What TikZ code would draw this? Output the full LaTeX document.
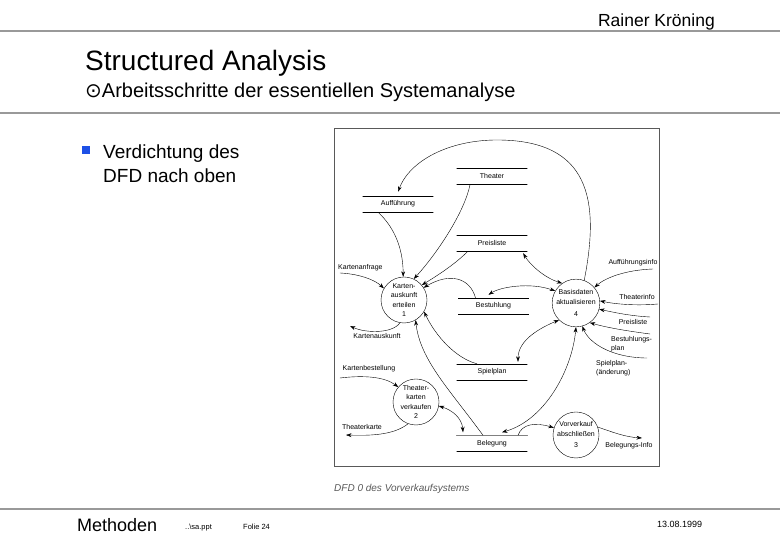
\documentclass[tikz,border=0pt]{standalone}
\usepackage{fontspec}
\setmainfont{Liberation Sans}
\newfontfamily\symfont{DejaVu Sans}
\usetikzlibrary{arrows.meta}
\definecolor{rulegray}{gray}{0.6}
\definecolor{bulletblue}{RGB}{30,80,230}

\begin{document}
\begin{tikzpicture}[x=1pt,y=1pt,>={Stealth[length=5.5pt,width=3.8pt]},line cap=round,
  proc/.style={circle,draw,thin,minimum size=46pt,inner sep=0pt,align=center,font=\fontsize{7}{9.5}\selectfont},
  store/.style={minimum width=70pt,minimum height=16pt,inner sep=0pt,font=\fontsize{7}{8}\selectfont},
  ext/.style={inner sep=0pt,align=left,font=\fontsize{7}{8.5}\selectfont},
  flow/.style={->,thin},
  both/.style={<->,thin}]
\useasboundingbox (0,0) rectangle (780,540);

% slide frame
\draw[rulegray,line width=2pt] (0,509) -- (780,509);
\draw[rulegray,line width=2pt] (0,427) -- (780,427);
\draw[rulegray,line width=2pt] (0,31) -- (780,31);
\node[anchor=base east,inner sep=0pt,font=\fontsize{17.5}{20}\selectfont] (author) at (715,513) {Rainer Kröning};
\node[anchor=base west,inner sep=0pt,font=\fontsize{28}{30}\selectfont] (title) at (85,469) {Structured Analysis};
\node[anchor=base west,inner sep=0pt,font=\fontsize{20}{22}\selectfont] (subtitle) at (85,442) {{\symfont ⊙}Arbeitsschritte der essentiellen Systemanalyse};
\fill[bulletblue] (82,386) rectangle (90,394);
\node[anchor=base west,inner sep=0pt,align=left,font=\fontsize{19}{24}\selectfont] (point) at (103,357.5) {Verdichtung des\\DFD nach oben};
\node[anchor=base west,inner sep=0pt,font=\fontsize{18}{20}\selectfont] (footer) at (77,8) {Methoden};
\node[anchor=base west,inner sep=0pt,font=\fontsize{7.5}{9}\selectfont] (file) at (185,10) {..\textbackslash sa.ppt};
\node[anchor=base west,inner sep=0pt,font=\fontsize{7.5}{9}\selectfont] (folie) at (243,10) {Folie 24};
\node[anchor=base west,inner sep=0pt,font=\fontsize{9}{10}\selectfont] (date) at (657,12) {13.08.1999};

% DFD 0
\draw[black!65] (334,74) rectangle (659,412);
\node[anchor=west,inner sep=0pt,text=black!65,font=\fontsize{10}{12}\selectfont\itshape] (caption) at (334,51) {DFD 0 des Vorverkaufsystems};

\node[proc] (p1) at (404,240) {Karten-\\auskunft\\erteilen\\1};
\node[proc] (p2) at (416,138) {Theater-\\karten\\verkaufen\\2};
\node[proc] (p3) at (576,105) {Vorverkauf\\abschließen\\[2pt]3};
\node[proc] (p4) at (576,237) {Basisdaten\\aktualisieren\\[3pt]4};

\node[store] (theater) at (492,363.5) {Theater};
\node[store] (auff) at (398,336) {Aufführung};
\node[store] (preis) at (492,297) {Preisliste};
\node[store] (bestuhl) at (493.5,234) {Bestuhlung};
\node[store] (spiel) at (492,168) {Spielplan};
\node[store] (beleg) at (492,96.5) {Belegung};
\foreach \s in {theater,auff,preis,bestuhl,spiel,beleg}
  \draw (\s.north west) -- (\s.north east) (\s.south west) -- (\s.south east);
\draw[gray,line width=1.2pt] (beleg.north west) -- (beleg.north east);

\node[ext,anchor=west] (kanf) at (338,272) {Kartenanfrage};
\node[ext] (kaus) at (377,204) {Kartenauskunft};
\node[ext] (kbest) at (369,171) {Kartenbestellung};
\node[ext] (tkarte) at (362,113) {Theaterkarte};
\node[ext] (ainfo) at (633,277) {Aufführungsinfo};
\node[ext] (tinfo) at (637,243) {Theaterinfo};
\node[ext] (pinfo) at (633,218) {Preisliste};
\node[ext,anchor=west] (bplan) at (611,196) {Bestuhlungs-\\plan};
\node[ext,anchor=west] (splan) at (596,172) {Spielplan-\\(änderung)};
\node[ext] (binfo) at (629,94) {Belegungs-Info};

\coordinate (kanf-o) at (340,267);
\coordinate (kaus-i) at (350,214);
\coordinate (kbest-o) at (340,162);
\coordinate (tkarte-i) at (346,105);
\coordinate (ainfo-o) at (653,271);
\coordinate (tinfo-o) at (658,236);
\coordinate (pinfo-o) at (650,223);
\coordinate (bplan-o) at (650,206);
\coordinate (splan-o) at (647,182);
\coordinate (binfo-i) at (642,102);

% flows
\draw[flow] (p4.70) .. controls (600,340) and (590,400) .. (497,400)
  .. controls (450,400) and (410,380) .. ([yshift=4]auff.north);
\draw[flow] ([xshift=-20]auff.south) .. controls (392,315) and (403,295) .. (p1.92);
\draw[flow] ([xshift=-22]theater.south) .. controls (465,330) and (440,290) .. (p1.65);
\draw[flow] ([xshift=-24]preis.south) .. controls (455,276) and (440,266) .. (p1.40);
\draw[flow] ([xshift=-18]bestuhl.north) .. controls (470,262) and (450,268) .. (p1.32);
\draw[flow] ([xshift=-15]spiel.north) .. controls (455,182) and (435,205) .. (p1.-30);
\draw[flow] ([xshift=-9]beleg.north) .. controls (450,150) and (420,180) .. (p1.-60);
\draw[flow] (kanf-o) .. controls (360,266) and (375,260) .. (p1.150);
\draw[flow] (p1.260) .. controls (392,206) and (365,207) .. (kaus-i);
\draw[flow] (kbest-o) .. controls (365,165) and (385,163) .. (p2.140);
\draw[flow] (p2.250) .. controls (395,106) and (375,104) .. (tkarte-i);
\draw[both] (p2.-10) .. controls (452,130) and (462,122) .. ([xshift=-29,yshift=3]beleg.north);
\draw[both] ([xshift=-4,yshift=-2]preis.south east) .. controls (530,275) and (545,262) .. (p4.125);
\draw[both] ([xshift=-5,yshift=3]bestuhl.north) .. controls (500,253) and (530,258) .. (p4.150);
\draw[both] (p4.225) .. controls (540,212) and (518,200) .. ([xshift=26,yshift=2]spiel.north);
\draw[both] (p4.270) .. controls (572,170) and (545,120) .. ([xshift=10,yshift=3]beleg.north);
\draw[flow] ([xshift=26]beleg.north) .. controls (522,116) and (535,118) .. (p3.162);
\draw[flow] (p3.20) .. controls (612,108) and (625,103) .. (binfo-i);
\draw[flow] (ainfo-o) .. controls (625,270) and (605,262) .. (p4.40);
\draw[flow] (tinfo-o) .. controls (635,234) and (615,236) .. (p4.5);
\draw[flow] (pinfo-o) .. controls (630,224) and (612,228) .. (p4.-15);
\draw[flow] (bplan-o) .. controls (620,210) and (605,213) .. (p4.-55);
\draw[flow] (splan-o) .. controls (615,182) and (590,195) .. (p4.-75);
\end{tikzpicture}
\end{document}
